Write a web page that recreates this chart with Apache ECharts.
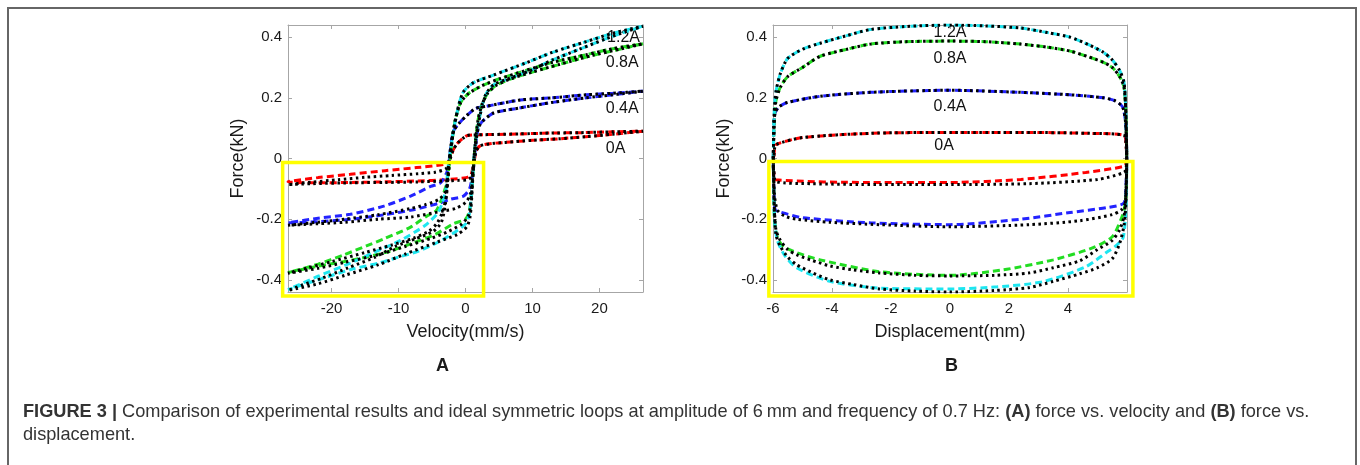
<!DOCTYPE html>
<html>
<head>
<meta charset="utf-8">
<script src="https://cdn.jsdelivr.net/npm/echarts@6.0.0/dist/echarts.min.js"></script>
<style>
    html, body { margin: 0; padding: 0; background: #fff; }
    #frame { position: absolute; left: 7px; top: 7px; width: 1346px; height: 480px; border: 2px solid #666; border-bottom: none; }
    #chart { position: absolute; left: 0; top: 0; width: 1360px; height: 465px; }
    #caption { position: absolute; left: 23px; top: 400px; font-family: "Liberation Sans", Arial, sans-serif;
               font-size: 18.2px; line-height: 23px; color: #333; white-space: nowrap; }
</style>
</head>
<body>
<div id="frame"></div>
<div id="chart"></div>
<div id="caption"><b>FIGURE 3 |</b> Comparison of experimental results and ideal symmetric loops at amplitude of 6&#8201;mm and frequency of 0.7 Hz: <b>(A)</b> force vs. velocity and <b>(B)</b> force vs.<br>displacement.</div>
<script>
    "use strict";

    // tick labels
    var velTicks = [-20, -10, 0, 10, 20];
    var dispTicks = [-6, -4, -2, 0, 2, 4];
    var forceTicks = [-0.4, -0.2, 0, 0.2, 0.4];
    var currentLabels = ['1.2A', '0.8A', '0.4A', '0A'];

    // force vs velocity: [mm/s, kN]
    // Up = upper branch (velocity falling), Lo = lower branch (velocity rising), Neg = negative side
    var fv0Up = [[26.5,0.09],[22,0.088],[17,0.085],[13,0.084],[8,0.081],[4,0.079],[1.5,0.078],[0.3,0.076],[-0.4,0.066],[-1.2,0.05],[-1.8,0.03],[-2.2,0.005]];
    var fv0Lo = [[1.3,-0.01],[1.6,0.025],[2.2,0.042],[4.2,0.05],[6,0.053],[10,0.06],[14,0.065],[18,0.072],[22,0.08],[26.5,0.09]];
    var fv0IdealNeg = [[-2.5,-0.02],[-3,-0.035],[-4.5,-0.045],[-7,-0.05],[-11,-0.056],[-15,-0.062],[-19,-0.07],[-23,-0.078],[-26.5,-0.086],
        [-23,-0.083],[-17,-0.08],[-12,-0.079],[-7,-0.077],[-3,-0.074],[-1,-0.072],[0.3,-0.07],[0.9,-0.06],[1.1,-0.035]];
    var fv0ExpNeg = [[-2.5,-0.01],[-3.3,-0.02],[-7.3,-0.03],[-12,-0.04],[-17.2,-0.052],[-22,-0.063],[-26.5,-0.077],
        [-22,-0.08],[-17,-0.079],[-12,-0.077],[-7,-0.074],[-3,-0.07],[0.1,-0.063],[0.8,-0.055],[1.1,-0.03]];

    var fv4Up = [[26.5,0.222],[22,0.215],[18,0.21],[13,0.2],[8.2,0.193],[3.1,0.172],[1.5,0.165],[0.1,0.14],[-1,0.115],[-1.8,0.09],[-2.2,0.04],[-2.4,0.0]];
    var fv4Lo = [[1.2,-0.03],[1.5,0.04],[1.9,0.1],[2.5,0.122],[4.2,0.15],[8.2,0.167],[13,0.185],[18,0.2],[22,0.21],[26.5,0.222]];
    var fv4IdealNeg = [[-2.6,-0.06],[-3,-0.11],[-4,-0.135],[-6,-0.152],[-8.2,-0.165],[-13,-0.185],[-18,-0.2],[-22,-0.21],[-26.5,-0.22],
        [-22,-0.215],[-18,-0.21],[-13,-0.2],[-8.2,-0.193],[-3.1,-0.172],[-1.5,-0.165],[0,-0.145],[0.7,-0.12],[1.0,-0.08]];
    var fv4ExpNeg = [[-2.7,-0.04],[-3.7,-0.08],[-5.2,-0.092],[-8.2,-0.124],[-12.2,-0.157],[-17.2,-0.184],[-22,-0.197],[-26.5,-0.212],
        [-22,-0.208],[-17,-0.2],[-12,-0.185],[-8,-0.17],[-4,-0.148],[-2.2,-0.134],[-0.3,-0.124],[0.6,-0.1],[1.0,-0.06]];

    var fv8Up = [[26.5,0.378],[22,0.362],[18,0.342],[13,0.317],[9,0.29],[5,0.262],[2.5,0.24],[0.5,0.215],[-0.7,0.185],[-1.5,0.13],[-2.0,0.06],[-2.3,0.0]];
    var fv8Lo = [[1.2,-0.02],[1.5,0.06],[1.9,0.13],[2.5,0.18],[3.3,0.215],[4.5,0.24],[6.7,0.262],[10,0.285],[14,0.31],[19,0.34],[23,0.36],[26.5,0.378]];
    var fv8IdealNeg = [[-2.6,-0.06],[-2.9,-0.13],[-3.5,-0.18],[-4.3,-0.215],[-5.5,-0.24],[-7.7,-0.262],[-11,-0.285],[-15,-0.31],[-20,-0.34],[-23.5,-0.36],[-26.5,-0.378],
        [-22,-0.362],[-18,-0.342],[-13,-0.317],[-9,-0.29],[-5,-0.262],[-2.5,-0.24],[-0.5,-0.215],[0.5,-0.185],[0.9,-0.12],[1.05,-0.06]];
    var fv8ExpNeg = [[-2.6,-0.05],[-2.9,-0.09],[-4.3,-0.17],[-5.8,-0.19],[-8.2,-0.226],[-12.2,-0.265],[-14.8,-0.288],[-18.2,-0.318],[-22,-0.348],[-26.5,-0.376],
        [-22,-0.355],[-17,-0.335],[-12,-0.31],[-8,-0.28],[-4.5,-0.25],[-1.8,-0.215],[0,-0.2],[0.6,-0.17],[1.0,-0.08]];

    var fv12Up = [[26.5,0.436],[22,0.413],[18,0.385],[13,0.35],[9,0.315],[4.2,0.275],[1.2,0.25],[-0.3,0.22],[-1.0,0.177],[-1.8,0.09],[-2.2,0.03],[-2.5,-0.01]];
    var fv12Lo = [[1.2,-0.01],[1.6,0.07],[2.2,0.145],[3,0.21],[4.2,0.243],[6.7,0.265],[9.7,0.29],[13,0.325],[17,0.36],[21,0.395],[24,0.418],[26.5,0.436]];
    var fv12IdealNeg = [[-2.7,-0.08],[-3.0,-0.15],[-3.6,-0.21],[-4.8,-0.24],[-7.5,-0.265],[-10.5,-0.29],[-13.5,-0.325],[-17.5,-0.36],[-21.5,-0.395],[-24.5,-0.418],[-26.5,-0.435],
        [-22,-0.413],[-18,-0.385],[-13,-0.35],[-9,-0.315],[-4.2,-0.275],[-1.2,-0.25],[0.2,-0.225],[0.7,-0.19],[1.0,-0.1]];
    var fv12ExpNeg = [[-2.7,-0.05],[-2.9,-0.1],[-4,-0.175],[-6,-0.22],[-9.7,-0.27],[-13.7,-0.31],[-17.2,-0.345],[-22,-0.388],[-26.5,-0.432],
        [-22,-0.4],[-17,-0.365],[-13,-0.345],[-10,-0.325],[-7,-0.305],[-3.6,-0.27],[0,-0.216],[0.6,-0.18],[1.0,-0.08]];

    // force vs displacement: [mm, kN]
    var fx0Up = [[-5.99,-0.03],[-5.95,0.03],[-5.9,0.046],[-5,0.069],[-2.7,0.083],[0,0.086],[2.4,0.086],[4.7,0.083],[5.9,0.076],[5.97,0.04],[5.99,0]];
    var fx0IdealLo = [[5.97,-0.03],[5.9,-0.046],[5,-0.069],[2.7,-0.083],[0,-0.086],[-2.4,-0.086],[-4.7,-0.083],[-5.9,-0.076],[-5.97,-0.04]];
    var fx0ExpLo = [[5.97,-0.015],[5.9,-0.026],[4.6,-0.046],[2.4,-0.069],[0,-0.079],[-2.7,-0.079],[-5.9,-0.07],[-5.97,-0.05]];

    var fx4Up = [[-5.99,0],[-5.97,0.1],[-5.93,0.15],[-5.8,0.17],[-5.5,0.185],[-4.4,0.205],[-2.7,0.218],[0,0.225],[2.4,0.218],[4.07,0.21],[5.2,0.2],[5.6,0.19],[5.85,0.17],[5.95,0.12],[5.99,0]];
    var fx4IdealLo = [[5.97,-0.1],[5.93,-0.15],[5.8,-0.17],[5.5,-0.185],[4.4,-0.205],[2.7,-0.218],[0,-0.225],[-2.4,-0.218],[-4.07,-0.21],[-5.2,-0.2],[-5.6,-0.19],[-5.85,-0.17],[-5.95,-0.12]];
    var fx4ExpLo = [[5.97,-0.08],[5.9,-0.146],[5.3,-0.162],[4.07,-0.178],[2.4,-0.2],[0,-0.218],[-2.7,-0.212],[-5,-0.195],[-5.8,-0.175],[-5.93,-0.168],[-5.97,-0.1]];

    var fx8Up = [[-5.99,0],[-5.96,0.12],[-5.9,0.19],[-5.75,0.235],[-5.5,0.27],[-5,0.3],[-4.4,0.337],[-3.5,0.36],[-2.7,0.377],[-1.5,0.385],[0,0.387],[1.2,0.385],
        [2.4,0.377],[3.3,0.367],[4.07,0.354],[4.7,0.335],[5.2,0.317],[5.5,0.3],[5.75,0.27],[5.9,0.235],[5.96,0.15],[5.99,0]];
    var fx8IdealLo = [[5.96,-0.12],[5.9,-0.19],[5.75,-0.235],[5.5,-0.27],[5,-0.3],[4.4,-0.337],[3.5,-0.36],[2.7,-0.377],[1.5,-0.385],[0,-0.387],[-1.2,-0.385],
        [-2.4,-0.377],[-3.3,-0.367],[-4.07,-0.354],[-4.7,-0.335],[-5.2,-0.317],[-5.5,-0.3],[-5.75,-0.27],[-5.9,-0.235],[-5.96,-0.15]];
    var fx8ExpLo = [[5.97,-0.12],[5.9,-0.17],[5.8,-0.2],[5.5,-0.258],[4.85,-0.294],[3.5,-0.334],[1.8,-0.367],[0,-0.385],[-2.4,-0.373],[-4.4,-0.334],[-5.2,-0.31],[-5.65,-0.29],[-5.85,-0.26],[-5.95,-0.2]];

    var fx12Up = [[-5.99,0],[-5.96,0.15],[-5.9,0.22],[-5.75,0.28],[-5.5,0.33],[-5,0.36],[-4.4,0.38],[-3.5,0.405],[-2.7,0.425],[-1.5,0.435],[0,0.44],[1.2,0.437],
        [2.4,0.43],[3.3,0.415],[4.07,0.4],[4.7,0.375],[5.2,0.35],[5.5,0.325],[5.75,0.29],[5.9,0.25],[5.96,0.15],[5.99,0]];
    var fx12IdealLo = [[5.96,-0.15],[5.9,-0.22],[5.75,-0.28],[5.5,-0.33],[5,-0.36],[4.4,-0.38],[3.5,-0.405],[2.7,-0.425],[1.5,-0.435],[0,-0.44],[-1.2,-0.437],
        [-2.4,-0.43],[-3.3,-0.415],[-4.07,-0.4],[-4.7,-0.375],[-5.2,-0.35],[-5.5,-0.325],[-5.75,-0.29],[-5.9,-0.25],[-5.96,-0.15]];
    var fx12ExpLo = [[5.97,-0.15],[5.87,-0.26],[5.6,-0.29],[5.3,-0.31],[4.6,-0.357],[3.15,-0.406],[1.6,-0.423],[0,-0.43],[-2.4,-0.427],[-4.07,-0.405],[-5.2,-0.36],[-5.6,-0.32],[-5.85,-0.27],[-5.95,-0.2]];

    // yellow boxes: [x0, y0, x1, y1]
    var boxA = [-27.3, -0.013, 2.7, -0.453];
    var boxB = [-6.14, -0.01, 6.2, -0.453];

    var FONT = '"Liberation Sans", Arial, sans-serif';
    var AXIS_GRAY = '#a6a6a6';

    function loopFv(lo, up, neg) { return lo.concat(up, neg, [lo[0]]); }
    function loopFx(up, lo) { return up.concat(lo, [up[0]]); }

    var colors = ['#ff0000', '#2323ff', '#22dd22', '#1ee6f0'];
    var fvLoops = [
        [loopFv(fv0Lo, fv0Up, fv0ExpNeg), loopFv(fv0Lo, fv0Up, fv0IdealNeg)],
        [loopFv(fv4Lo, fv4Up, fv4ExpNeg), loopFv(fv4Lo, fv4Up, fv4IdealNeg)],
        [loopFv(fv8Lo, fv8Up, fv8ExpNeg), loopFv(fv8Lo, fv8Up, fv8IdealNeg)],
        [loopFv(fv12Lo, fv12Up, fv12ExpNeg), loopFv(fv12Lo, fv12Up, fv12IdealNeg)]
    ];
    var fxLoops = [
        [loopFx(fx0Up, fx0ExpLo), loopFx(fx0Up, fx0IdealLo)],
        [loopFx(fx4Up, fx4ExpLo), loopFx(fx4Up, fx4IdealLo)],
        [loopFx(fx8Up, fx8ExpLo), loopFx(fx8Up, fx8IdealLo)],
        [loopFx(fx12Up, fx12ExpLo), loopFx(fx12Up, fx12IdealLo)]
    ];

    function boxAxis(dim, grid, pos, min, max, ticks, name, nameGap, labels) {
        var ax = {
            type: 'value', gridIndex: grid, position: pos, min: min, max: max,
            axisLine: { show: true, onZero: false, lineStyle: { color: AXIS_GRAY, width: 1 } },
            axisTick: { show: true, inside: true, length: 4, customValues: ticks, lineStyle: { color: AXIS_GRAY } },
            axisLabel: { show: labels, customValues: ticks, color: '#1a1a1a', fontFamily: FONT, fontSize: 15,
                         margin: dim === 'x' ? 9 : 6 },
            splitLine: { show: false }
        };
        if (name) {
            ax.name = name;
            ax.nameLocation = 'middle';
            ax.nameGap = nameGap;
            ax.nameTextStyle = { color: '#1a1a1a', fontFamily: FONT, fontSize: 18 };
        }
        return ax;
    }

    var xAxes = [
        boxAxis('x', 0, 'bottom', -26.5, 26.5, velTicks, 'Velocity(mm/s)', 31, true),
        boxAxis('x', 0, 'top', -26.5, 26.5, velTicks, null, 0, false),
        boxAxis('x', 1, 'bottom', -6, 6, dispTicks, 'Displacement(mm)', 31, true),
        boxAxis('x', 1, 'top', -6, 6, dispTicks, null, 0, false)
    ];
    var yAxes = [
        boxAxis('y', 0, 'left', -0.44, 0.44, forceTicks, 'Force(kN)', 41, true),
        boxAxis('y', 0, 'right', -0.44, 0.44, forceTicks, null, 0, false),
        boxAxis('y', 1, 'left', -0.44, 0.44, forceTicks, 'Force(kN)', 40, true),
        boxAxis('y', 1, 'right', -0.44, 0.44, forceTicks, null, 0, false)
    ];

    var series = [];
    [fvLoops, fxLoops].forEach(function(loops, g) {
        loops.forEach(function(pair, i) {
            series.push({
                type: 'line', xAxisIndex: g * 2, yAxisIndex: g * 2, data: pair[0],
                showSymbol: false, smooth: 0.25, z: 3,
                lineStyle: { color: colors[i], width: 3, type: [7, 4] }
            });
        });
        loops.forEach(function(pair) {
            series.push({
                type: 'line', xAxisIndex: g * 2, yAxisIndex: g * 2, data: pair[1],
                showSymbol: false, smooth: 0.25, z: 4,
                lineStyle: { color: '#000', width: 3, type: [2.5, 3.5] }
            });
        });
    });

    // current labels
    var labelPosA = [[23.6, 0.397], [23.4, 0.315], [23.4, 0.163], [22.4, 0.032]];
    var labelPosB = [[0, 0.416], [0, 0.33], [0, 0.172], [-0.2, 0.043]];
    [labelPosA, labelPosB].forEach(function(pos, g) {
        series.push({
            type: 'scatter', xAxisIndex: g * 2, yAxisIndex: g * 2, symbolSize: 0, z: 1, silent: true,
            itemStyle: { opacity: 1 },
            data: currentLabels.map(function(t, i) { return { name: t, value: pos[i] }; }),
            label: { show: true, position: 'inside', formatter: '{b}', color: '#111', opacity: 1,
                     textBorderWidth: 0, fontFamily: FONT, fontSize: 16 }
        });
    });

    // yellow boxes (may reach past the axes, so drawn unclamped)
    [boxA, boxB].forEach(function(b, g) {
        series.push({
            type: 'custom', xAxisIndex: g * 2, yAxisIndex: g * 2, clip: false, z: 5, silent: true,
            encode: { x: [0, 2], y: [1, 3] },
            data: [b],
            renderItem: function(params, api) {
                var p0 = api.coord([api.value(0), api.value(1)]);
                var p1 = api.coord([api.value(2), api.value(3)]);
                return {
                    type: 'rect',
                    shape: { x: p0[0], y: p0[1], width: p1[0] - p0[0], height: p1[1] - p0[1] },
                    style: { fill: 'none', stroke: '#ffff00', lineWidth: 3.5 }
                };
            }
        });
    });

    var chart = echarts.init(document.getElementById('chart'));
    chart.setOption({
        animation: false,
        backgroundColor: 'transparent',
        grid: [
            { left: 288, top: 25, width: 355, height: 267 },
            { left: 773, top: 25, width: 354, height: 267 }
        ],
        xAxis: xAxes,
        yAxis: yAxes,
        graphic: [
            { type: 'text', left: 436, top: 357, style: { text: 'A', font: 'bold 18px ' + FONT, fill: '#1a1a1a' } },
            { type: 'text', left: 945, top: 357, style: { text: 'B', font: 'bold 18px ' + FONT, fill: '#1a1a1a' } }
        ],
        series: series
    });
</script>
</body>
</html>
